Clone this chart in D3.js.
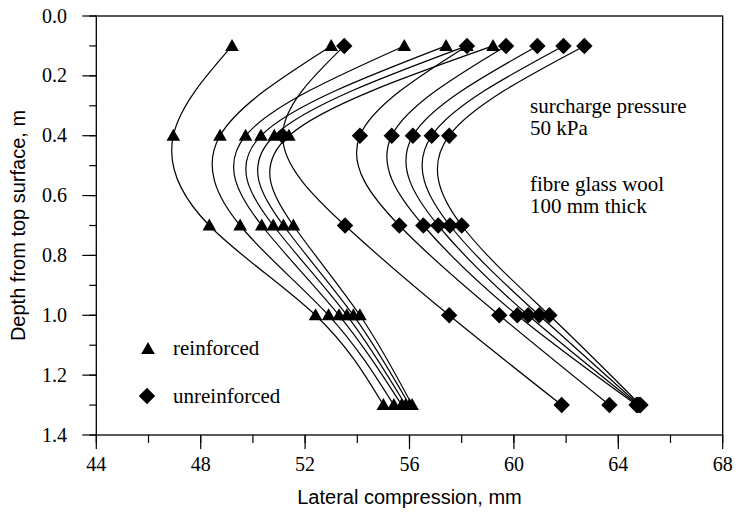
<!DOCTYPE html>
<html>
<head>
<meta charset="utf-8">
<script src="https://cdn.jsdelivr.net/npm/d3@7.9.0/dist/d3.min.js"></script>
<style>
  body { margin: 0; background: #fff; }
  svg { display: block; }
  .tick-label { font-family: "Liberation Serif", "Times New Roman", serif; font-size: 20px; }
  .note { font-family: "Liberation Serif", "Times New Roman", serif; font-size: 21px; }
  .axis-title { font-family: "Liberation Sans", Arial, sans-serif; font-size: 20px; }
</style>
</head>
<body>
<svg id="chart" width="736" height="514"></svg>
<script>
// depths (m) where lateral compression was measured
const depths = [0.1, 0.4, 0.7, 1.0, 1.3];

// lateral compression (mm), one array per curve, ordered by depth
const reinforced = [
    [49.2, 46.95, 48.33, 52.4, 55.0],
    [53.0, 48.74, 49.51, 52.9, 55.4],
    [55.8, 49.72, 50.34, 53.3, 55.7],
    [57.4, 50.31, 50.78, 53.6, 55.85],
    [58.2, 50.82, 51.17, 53.85, 56.0],
    [59.2, 51.38, 51.55, 54.1, 56.1]
];
const unreinforced = [
    [53.5, 51.14, 53.53, 57.52, 61.83],
    [58.2, 54.10, 55.61, 59.44, 63.66],
    [59.7, 55.32, 56.53, 60.13, 64.7],
    [60.9, 56.13, 57.10, 60.55, 64.75],
    [61.9, 56.85, 57.55, 60.97, 64.8],
    [62.7, 57.52, 58.0, 61.36, 64.85]
];

const xTicks = d3.range(44, 68.01, 4);
const xMinor = d3.range(44, 68.01, 2);
const yTicks = d3.range(0, 1.401, 0.2);
const yMinor = d3.range(0, 1.401, 0.1);

const svg = d3.select('#chart');
const mLeft = 96.3, mRight = 722.7, mTop = 16, mBottom = 435;

const x = d3.scaleLinear().domain([44, 68]).range([mLeft, mRight]);
const y = d3.scaleLinear().domain([0, 1.4]).range([mTop, mBottom]);

// frame
svg.append('rect')
    .attr('x', mLeft).attr('y', mTop)
    .attr('width', mRight - mLeft).attr('height', mBottom - mTop)
    .attr('fill', 'none').attr('stroke', '#000').attr('stroke-width', 1.3);

// y axis ticks
svg.selectAll('.ymin').data(yMinor).enter().append('line')
    .attr('x1', mLeft - 7).attr('x2', mLeft)
    .attr('y1', d => y(d)).attr('y2', d => y(d))
    .attr('stroke', '#000').attr('stroke-width', 1.2);
svg.selectAll('.ymaj').data(yTicks).enter().append('line')
    .attr('x1', mLeft - 14).attr('x2', mLeft)
    .attr('y1', d => y(d)).attr('y2', d => y(d))
    .attr('stroke', '#000').attr('stroke-width', 1.2);
svg.selectAll('.ylab').data(yTicks).enter().append('text')
    .attr('class', 'tick-label')
    .attr('x', 67).attr('y', d => y(d) + 6.5)
    .attr('text-anchor', 'end')
    .text(d => d3.format('.1f')(d));

// x axis ticks
svg.selectAll('.xmin').data(xMinor).enter().append('line')
    .attr('x1', d => x(d)).attr('x2', d => x(d))
    .attr('y1', mBottom).attr('y2', mBottom + 8)
    .attr('stroke', '#000').attr('stroke-width', 1.2);
svg.selectAll('.xmaj').data(xTicks).enter().append('line')
    .attr('x1', d => x(d)).attr('x2', d => x(d))
    .attr('y1', mBottom).attr('y2', mBottom + 14)
    .attr('stroke', '#000').attr('stroke-width', 1.2);
svg.selectAll('.xlab').data(xTicks).enter().append('text')
    .attr('class', 'tick-label')
    .attr('x', d => x(d)).attr('y', 471)
    .attr('text-anchor', 'middle')
    .text(d => d);

// axis titles
svg.append('text').attr('class', 'axis-title')
    .attr('x', (mLeft + mRight) / 2).attr('y', 504)
    .attr('text-anchor', 'middle')
    .text('Lateral compression, mm');
svg.append('text').attr('class', 'axis-title')
    .attr('transform', `translate(25,${(mTop + mBottom) / 2}) rotate(-90)`)
    .attr('text-anchor', 'middle')
    .text('Depth from top surface, m');

// curves
const line = d3.line()
    .x(d => x(d[0]))
    .y(d => y(d[1]))
    .curve(d3.curveNatural);

const allSeries = reinforced.map(s => ({ vals: s, kind: 'tri' }))
    .concat(unreinforced.map(s => ({ vals: s, kind: 'dia' })));

svg.selectAll('.curve').data(allSeries).enter().append('path')
    .attr('d', d => line(d.vals.map((v, i) => [v, depths[i]])))
    .attr('fill', 'none').attr('stroke', '#000').attr('stroke-width', 1.2);

// marker shapes
const triPath = 'M0,-7L6.8,5L-6.8,5Z';
const diaPath = 'M0,-8.2L8.2,0L0,8.2L-8.2,0Z';

allSeries.forEach(s => {
    svg.selectAll(null).data(s.vals).enter().append('path')
        .attr('d', s.kind === 'tri' ? triPath : diaPath)
        .attr('transform', (v, i) => `translate(${x(v)},${y(depths[i])})`)
        .attr('fill', '#000');
});

// legend
svg.append('path').attr('d', triPath).attr('transform', 'translate(148,349)').attr('fill', '#000');
svg.append('text').attr('class', 'note').attr('x', 173).attr('y', 355).text('reinforced');
svg.append('path').attr('d', diaPath).attr('transform', 'translate(147,396)').attr('fill', '#000');
svg.append('text').attr('class', 'note').attr('x', 173).attr('y', 403).text('unreinforced');

// annotations
svg.append('text').attr('class', 'note').attr('x', 530).attr('y', 113).text('surcharge pressure');
svg.append('text').attr('class', 'note').attr('x', 530).attr('y', 135).text('50 kPa');
svg.append('text').attr('class', 'note').attr('x', 530).attr('y', 191).text('fibre glass wool');
svg.append('text').attr('class', 'note').attr('x', 530).attr('y', 213).text('100 mm thick');
</script>
</body>
</html>
